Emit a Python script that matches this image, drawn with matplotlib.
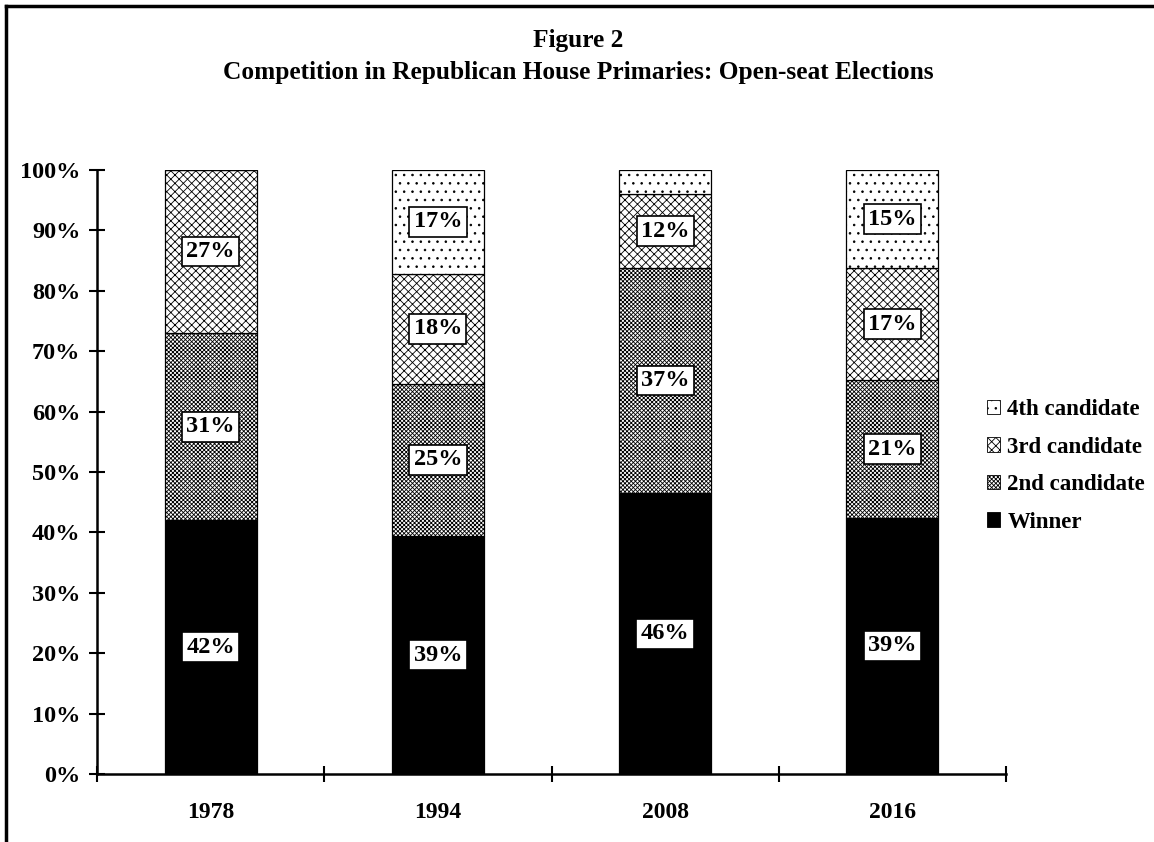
import matplotlib
matplotlib.use("Agg")
import matplotlib.pyplot as plt
from matplotlib.lines import Line2D
from matplotlib.patches import Patch
import numpy as np

# raw shares per candidate; bars are drawn as 100% stacks of these
years = ["1978", "1994", "2008", "2016"]
winner = [42, 39, 46, 39]
second = [31, 25, 37, 21]
third = [27, 18, 12, 17]
fourth = [0, 17, 4, 15]

series_names = ["Winner", "2nd candidate", "3rd candidate", "4th candidate"]
hatches = [None, "xxxxxxxx", "xxxx", ".."]
faces = ["black", "white", "white", "white"]

plt.rcParams["font.family"] = ["Liberation Serif", "DejaVu Serif"]
plt.rcParams["font.weight"] = "bold"
plt.rcParams["hatch.linewidth"] = 0.6
plt.rcParams["hatch.color"] = "black"

fig = plt.figure(figsize=(11.54, 8.42), dpi=100)
ax = fig.add_axes([97 / 1154, 68 / 842, 909 / 1154, 604 / 842])

data = np.array([winner, second, third, fourth], dtype=float)
totals = data.sum(axis=0)
pct = data / totals * 100

x = np.arange(len(years))
bottom = np.zeros(len(years))
for i in range(4):
    ax.bar(x, pct[i], 0.405, bottom=bottom, color=faces[i], hatch=hatches[i],
           edgecolor="black", linewidth=0.9, zorder=2)
    for j in range(len(years)):
        if data[i, j] >= 5:
            ax.text(x[j], bottom[j] + pct[i, j] / 2, "%d%%" % data[i, j],
                    ha="center", va="center", fontsize=17.5, fontweight="bold",
                    bbox=dict(boxstyle="square,pad=0.18", fc="white", ec="black", lw=1.2),
                    zorder=5)
    bottom += pct[i]

ax.set_xlim(-0.5, len(years) - 0.5)
ax.set_ylim(0, 100)
ax.set_yticks(np.arange(0, 101, 10))
ax.set_yticklabels(["%d%%" % v for v in range(0, 101, 10)], fontsize=17.5, fontweight="bold")
ax.set_xticks(x)
ax.set_xticklabels(years, fontsize=17, fontweight="bold")
ax.set_xticks(np.arange(-0.5, len(years)), minor=True)
ax.tick_params(axis="x", which="major", length=0, pad=20)
ax.tick_params(axis="x", which="minor", direction="inout", length=12, width=1.5)
ax.tick_params(axis="y", direction="inout", length=12, width=1.5, pad=6)
for s in ["top", "right"]:
    ax.spines[s].set_visible(False)
for s in ["left", "bottom"]:
    ax.spines[s].set_linewidth(1.8)

# legend, last series on top
handles = [Patch(facecolor=faces[i], hatch=hatches[i], edgecolor="black", lw=0.6)
           for i in range(4)][::-1]
fig.legend(handles, series_names[::-1], loc="center left",
           bbox_to_anchor=(966 / 1154, 1 - 466 / 842), frameon=False,
           prop={"family": "Liberation Serif", "weight": "bold", "size": 16.5},
           handlelength=0.6, handleheight=0.6, handletextpad=0.3, labelspacing=0.72)

fig.text(0.501, 1 - 40 / 842, "Figure 2", ha="center", va="center",
         fontsize=18.3, fontweight="bold")
fig.text(0.501, 1 - 73 / 842,
         "Competition in Republican House Primaries: Open-seat Elections",
         ha="center", va="center", fontsize=18.3, fontweight="bold")

# frame lines along top and left edge
fig.add_artist(Line2D([6 / 1154, 1], [1 - 6 / 842, 1 - 6 / 842], color="black", lw=2.5))
fig.add_artist(Line2D([6 / 1154, 6 / 1154], [0, 1 - 6 / 842], color="black", lw=2.5))

fig.savefig("out.png", dpi=100)
